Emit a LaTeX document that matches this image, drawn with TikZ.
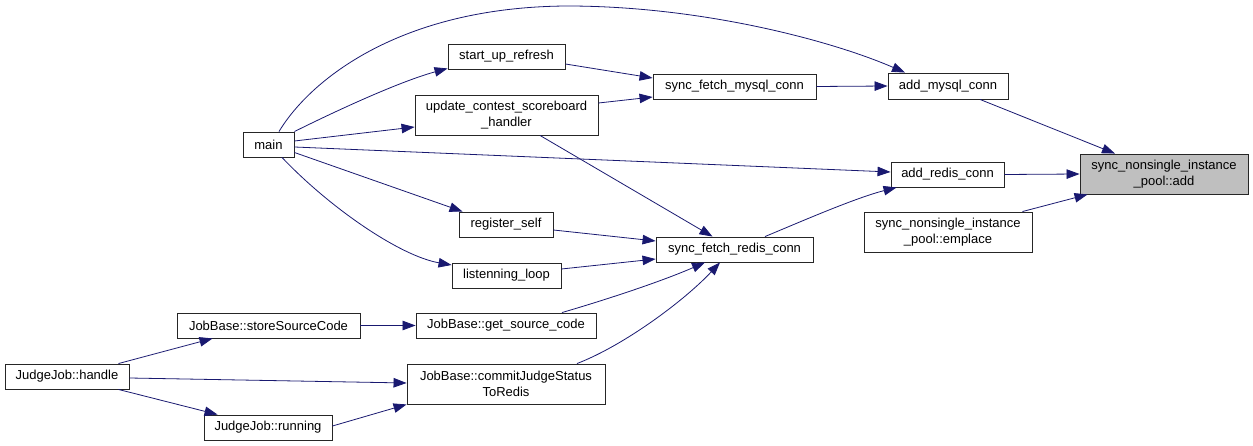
\documentclass[tikz,border=0pt]{standalone}
\usepackage{fontspec}
\setmainfont{Liberation Sans}
\usetikzlibrary{arrows.meta}
\definecolor{edgeblue}{HTML}{191970}
\definecolor{hlgray}{HTML}{BFBFBF}
\begin{document}
\begin{tikzpicture}[x=1pt,y=-1pt,
  fn/.style={draw=black!85,line width=0.9pt,inner sep=0pt,align=center,font=\fontsize{13}{16}\selectfont,fill=white},
  call/.style={draw=edgeblue,line width=0.8pt,-{Triangle[length=13pt,width=9.5pt]},fill=none}]
\useasboundingbox (0,0) rectangle (1253,446);
\node[fn,minimum width=51pt,minimum height=25pt] (main) at (268.5,144.5) {main};
\node[fn,minimum width=117pt,minimum height=25pt] (start) at (506.5,56.5) {start\_up\_refresh};
\node[fn,minimum width=183pt,minimum height=40pt] (update) at (506.5,115) {update\_contest\_scoreboard\\\_handler};
\node[fn,minimum width=163pt,minimum height=25pt] (fmysql) at (734.5,86.5) {sync\_fetch\_mysql\_conn};
\node[fn,minimum width=120pt,minimum height=26pt] (addmysql) at (948,86) {add\_mysql\_conn};
\node[fn,minimum width=168pt,minimum height=40pt,fill=hlgray] (add) at (1164,174) {sync\_nonsingle\_instance\\\_pool::add};
\node[fn,minimum width=113pt,minimum height=25pt] (addredis) at (947.5,174.5) {add\_redis\_conn};
\node[fn,minimum width=168pt,minimum height=40pt] (emplace) at (948,232) {sync\_nonsingle\_instance\\\_pool::emplace};
\node[fn,minimum width=94pt,minimum height=25pt] (register) at (506,224.5) {register\_self};
\node[fn,minimum width=157pt,minimum height=25pt] (fredis) at (734.5,249.5) {sync\_fetch\_redis\_conn};
\node[fn,minimum width=109pt,minimum height=25pt] (listen) at (506.5,275.5) {listenning\_loop};
\node[fn,minimum width=180pt,minimum height=25pt] (getsrc) at (506,325.5) {JobBase::get\_source\_code};
\node[fn,minimum width=198pt,minimum height=40pt] (commit) at (506,384) {JobBase::commitJudgeStatus\\ToRedis};
\node[fn,minimum width=183pt,minimum height=25pt] (store) at (268.5,325.5) {JobBase::storeSourceCode};
\node[fn,minimum width=124pt,minimum height=25pt] (handle) at (67,376.5) {JudgeJob::handle};
\node[fn,minimum width=128pt,minimum height=25pt] (running) at (268,427.5) {JudgeJob::running};
\coordinate (topmid) at (567,6);
% edges from main
\draw[call] (main.north east) .. controls (350,104) and (405,80) .. ([yshift=1pt]start.south west);
\draw[call] ([yshift=3.5pt]main.east) -- ([yshift=-12pt]update.west);
\draw[call] ([xshift=10.5pt]main.north) .. controls (310,80) and (400,7) .. (topmid) .. controls (700,6) and (830,40) .. ([xshift=-43pt]addmysql.north);
\draw[call] ([yshift=-2.5pt]main.east) -- ([yshift=2.5pt]addredis.west);
\draw[call] ([yshift=-8pt]main.east) -- ([xshift=4pt]register.north west);
\draw[call] ([xshift=13.5pt]main.south) .. controls (330,208) and (400,256) .. ([yshift=10.5pt]listen.west);
% mysql chain
\draw[call] ([yshift=-7.5pt]start.east) -- ([yshift=8.5pt]fmysql.west);
\draw[call] ([yshift=12pt]update.east) -- ([yshift=-10.5pt]fmysql.west);
\draw[call] ([xshift=33.5pt]update.south) -- ([xshift=-22pt]fredis.north);
\draw[call] (fmysql.east) -- (addmysql.west);
\draw[call] ([xshift=32pt]addmysql.south) -- ([xshift=-49pt]add.north);
\draw[call] (addredis.east) -- (add.west);
\draw[call] ([xshift=-10pt]emplace.north east) -- ([xshift=8pt]add.south west);
% redis chain
\draw[call] ([xshift=30.5pt]fredis.north) .. controls (800,222) and (855,198) .. ([xshift=6pt]addredis.south west);
\draw[call] ([yshift=-5.5pt]register.east) -- ([yshift=8.5pt]fredis.west);
\draw[call] ([yshift=6.5pt]listen.east) -- ([yshift=-9.5pt]fredis.west);
\draw[call] ([xshift=56pt]getsrc.north) .. controls (605,300) and (660,282) .. ([xshift=-29.5pt]fredis.south);
\draw[call] ([xshift=71pt]commit.north) .. controls (625,345) and (685,300) .. ([xshift=-14.5pt]fredis.south);
% job chain
\draw[call] (store.east) -- (getsrc.west);
\draw[call] ([xshift=-11pt]handle.north east) -- ([xshift=36pt]store.south west);
\draw[call] ([yshift=-1.5pt]handle.east) -- ([yshift=1pt]commit.west);
\draw[call] ([xshift=-11pt]handle.south east) -- ([xshift=14pt]running.north west);
\draw[call] ([yshift=1.5pt]running.east) -- (commit.south west);
\end{tikzpicture}
\end{document}
